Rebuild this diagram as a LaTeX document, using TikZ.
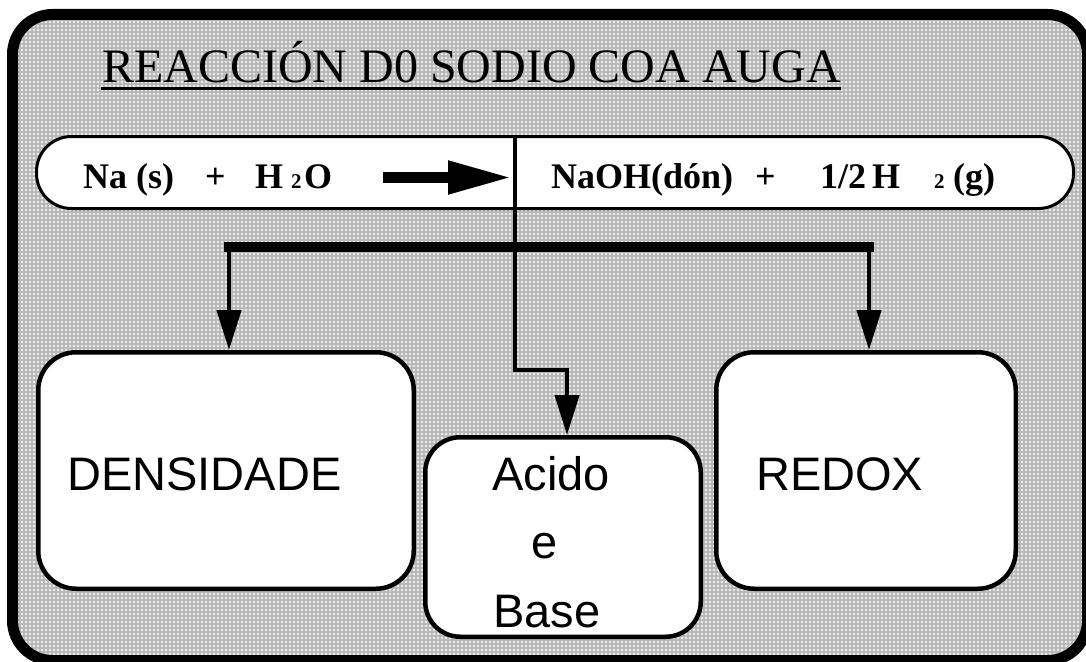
\documentclass[tikz,border=0pt]{standalone}
\usepackage{fontspec}
\setmainfont{Liberation Serif}
\newfontfamily\arialf{Liberation Sans}
\usetikzlibrary{arrows.meta}
\tikzset{
 boxst/.style={draw, line width=4.5pt, rounded corners=38pt, fill=white, inner sep=0pt},
 conn/.style={line width=4.5pt},
 arr/.style={conn, -{Triangle[length=40pt,width=24pt]}},
 eqtext/.style={font=\bfseries\fontsize{36}{36}\selectfont, anchor=base west, inner sep=0pt},
 subtext/.style={font=\bfseries\fontsize{21}{21}\selectfont, anchor=base west, inner sep=0pt},
 boxtext/.style={font=\arialf\fontsize{47}{47}\selectfont, inner sep=0pt},
}
\begin{document}
\begin{tikzpicture}[x=1pt,y=-1pt]
\useasboundingbox (0,0) rectangle (1086,661);
\clip (0,0) rectangle (1086,661);
% background frame with fine grid
\begin{scope}
 \clip[rounded corners=40pt] (12.5,14.5) rectangle (1087.5,660.5);
 \fill[gray!15] (0,0) rectangle (1086,661);
 \draw[gray!55, line width=1.1pt, step=4pt] (0,0) grid (1088,664);
\end{scope}
\draw[line width=11pt, rounded corners=40pt] (12.5,14.5) rectangle (1087.5,660.5);
% title
\node[font=\fontsize{48}{48}\selectfont, anchor=base west, inner sep=0pt] (title) at (102,82) {REACCIÓN D0 SODIO COA AUGA};
\draw[line width=3pt] ([xshift=-1pt,yshift=-6pt]title.base west) -- ([yshift=-6pt]title.base east);
% equation box
\node[draw, line width=3pt, rounded corners=35pt, fill=white, minimum width=1037pt, minimum height=72pt, inner sep=0pt] (eq) at (555,172.5) {};
\node[eqtext] (l1) at (83,188) {Na (s)};
\node[eqtext] (l2) at (205,188) {+};
\node[eqtext] (l3) at (255,188) {H};
\node[subtext] (l4) at (291,188) {2};
\node[eqtext] (l5) at (304,188) {O};
\node[eqtext] (r1) at (551,188) {NaOH(dón)};
\node[eqtext] (r2) at (755,188) {+};
\node[eqtext] (r3) at (820,188) {1/2};
\node[eqtext] (r4) at (872,188) {H};
\node[subtext] (r5) at (934,188) {2};
\node[eqtext] (r6) at (953,188) {(g)};
\coordinate (as) at (383,177.5);
\coordinate (ae) at (512,177.5);
\draw[line width=11pt, -{Triangle[length=64pt,width=31pt]}] (as) -- (ae);
% divider and distribution bar
\coordinate (junc) at (515,247);
\draw[line width=4pt] (eq.north -| junc) -- (junc);
\coordinate (barL) at (229,247);
\coordinate (barR) at (869,247);
\draw[line width=10pt, line cap=rect] (barL) -- (barR);
% boxes
\node[boxst, minimum width=375.5pt, minimum height=236.5pt] (dens) at (226,470.5) {};
\node[boxst, rounded corners=35pt, minimum width=275.5pt, minimum height=199.5pt] (acid) at (563,537) {};
\node[boxst, minimum width=299.5pt, minimum height=236.5pt] (redox) at (866,470.5) {};
% connectors
\draw[arr] (barL) -- (dens.north -| barL);
\draw[arr] (barR) -- (redox.north -| barR);
\coordinate (bend) at (567,370);
\draw[arr] (junc) |- (bend) -- (acid.north -| bend);
% box texts
\node[boxtext, anchor=base west] (tdens) at (67,490) {DENSIDADE};
\node[boxtext, anchor=base west] (tredox) at (756,490) {REDOX};
\node[boxtext, anchor=base] (tacid) at (551,490) {Acido};
\node[boxtext, anchor=base] (te) at (545,558) {e};
\node[boxtext, anchor=base] (tbase) at (547,627) {Base};
\end{tikzpicture}
\end{document}
